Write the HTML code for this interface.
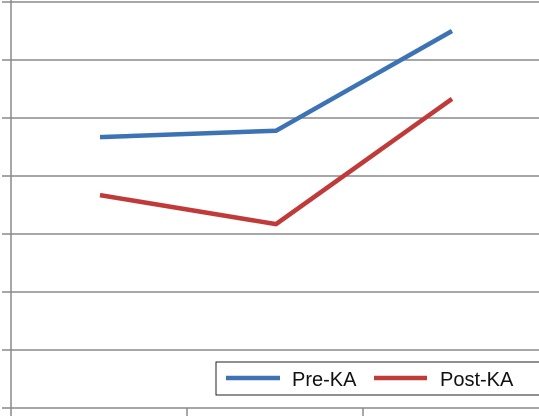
<!DOCTYPE html>
<html><head><meta charset="utf-8"><style>
html,body{margin:0;padding:0;background:#fff;width:539px;height:416px;overflow:hidden}
svg{display:block;font-family:"Liberation Sans",sans-serif}
</style></head><body>
<svg id="chart" width="539" height="416">
<g id="grid"></g><g id="series"></g>
<g>
<rect x="216" y="362" width="330" height="33" fill="#fff" stroke="#222" stroke-width="1"/>
<line x1="226" y1="378" x2="280" y2="378" stroke="#3c73b4" stroke-width="4.5"/>
<text x="292" y="386" font-size="20" fill="#111">Pre-KA</text>
<line x1="374" y1="378" x2="427" y2="378" stroke="#c03a3a" stroke-width="4.5"/>
<text x="440" y="386" font-size="20" fill="#111">Post-KA</text>
</g>
</svg>
<script>
const categories=["A","B","C"];
const preKA=[4.67,4.78,6.5];
const postKA=[3.67,3.17,5.33];
const yTicks=[0,1,2,3,4,5,6,7];
const NS="http://www.w3.org/2000/svg";
const y=v=>408-v*58;
const x=i=>12+176*i+88;
const grid=document.getElementById('grid');
function ln(p,x1,y1,x2,y2,c,w){const l=document.createElementNS(NS,'line');l.setAttribute('x1',x1);l.setAttribute('y1',y1);l.setAttribute('x2',x2);l.setAttribute('y2',y2);l.setAttribute('stroke',c);l.setAttribute('stroke-width',w);p.appendChild(l);return l;}
yTicks.forEach(t=>{const l=ln(grid,2,y(t),539,y(t),'#8a8a8a',1.5);

});
const ax=ln(grid,11,0,11,416,'#8a8a8a',1.5);


categories.forEach((c,i)=>{if(i>0){const l=ln(grid,11+176*i,y(0),11+176*i,416,'#8a8a8a',1.5);

}});
const ser=document.getElementById('series');
[[preKA,'#3c73b4','pre-ka-line'],[postKA,'#c03a3a','post-ka-line']].forEach(([d,c,n])=>{
const p=document.createElementNS(NS,'polyline');
p.setAttribute('points',d.map((v,i)=>x(i)+','+y(v)).join(' '));
p.setAttribute('fill','none');p.setAttribute('stroke',c);p.setAttribute('stroke-width','4.5');p.setAttribute('stroke-linejoin','round');


ser.appendChild(p);});
</script>
</body></html>
